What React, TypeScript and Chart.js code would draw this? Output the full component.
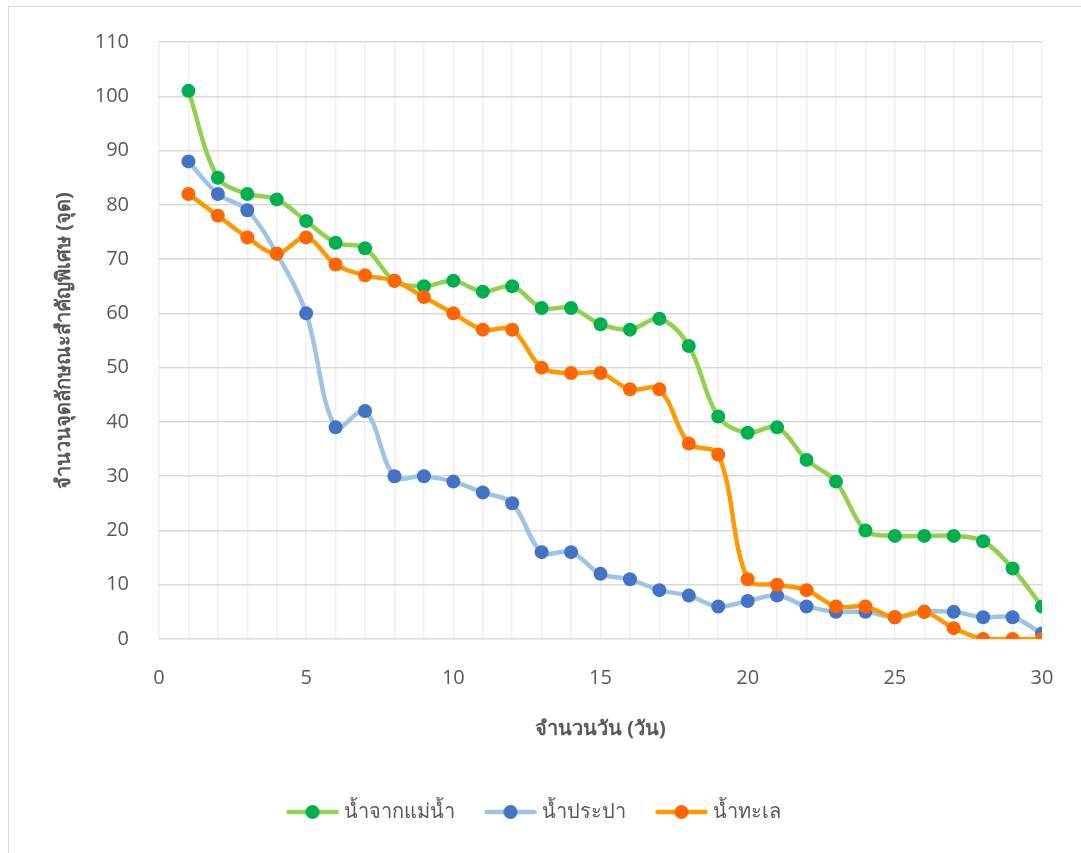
import React, { useEffect, useRef } from "react";
import { Chart, registerables } from "chart.js";

Chart.register(...registerables);

// Day numbers along the x axis
const days: number[] = Array.from({ length: 30 }, (_, i) => i + 1);

// Number of key feature points remaining per day
const riverWater: number[] = [
  101, 85, 82, 81, 77, 73, 72, 66, 65, 66, 64, 65, 61, 61, 58, 57, 59, 54, 41, 38,
  39, 33, 29, 20, 19, 19, 19, 18, 13, 6,
];
const tapWater: number[] = [
  88, 82, 79, 71, 60, 39, 42, 30, 30, 29, 27, 25, 16, 16, 12, 11, 9, 8, 6, 7, 8, 6,
  5, 5, 4, 5, 5, 4, 4, 1,
];
const seaWater: number[] = [
  82, 78, 74, 71, 74, 69, 67, 66, 63, 60, 57, 57, 50, 49, 49, 46, 46, 36, 34, 11,
  10, 9, 6, 6, 4, 5, 2, 0, 0, 0,
];

const seriesNames: string[] = ["น้ำจากแม่น้ำ", "น้ำประปา", "น้ำทะเล"];
const lineColors: string[] = ["#92D050", "#9DC3E6", "#FF9900"];
const pointColors: string[] = ["#00B050", "#4472C4", "#FF6600"];
const drawOrder: number[] = [2, 1, 0];

const xTitle = "จำนวนวัน (วัน)";
const yTitle = "จำนวนจุดลักษณะสำคัญพิเศษ (จุด)";

const textColor = "#595959";
const fontFamily = '"Open Sans", "Noto Sans", Tahoma, sans-serif';

// Legend marker: a short line with a dot in the middle
function makeMarker(line: string, dot: string): HTMLCanvasElement {
  const c = document.createElement("canvas");
  c.width = 54;
  c.height = 16;
  const ctx = c.getContext("2d")!;
  ctx.strokeStyle = line;
  ctx.lineWidth = 4.5;
  ctx.lineCap = "round";
  ctx.beginPath();
  ctx.moveTo(3, 8);
  ctx.lineTo(51, 8);
  ctx.stroke();
  ctx.fillStyle = dot;
  ctx.beginPath();
  ctx.arc(27, 8, 7, 0, Math.PI * 2);
  ctx.fill();
  return c;
}

export default function App() {
  const canvasRef = useRef<HTMLCanvasElement | null>(null);

  useEffect(() => {
    document.body.style.margin = "0";
    document.body.style.overflow = "hidden";
    const canvas = canvasRef.current;
    if (!canvas) return;

    const seriesValues = [riverWater, tapWater, seaWater];
    const markers = lineColors.map((c, i) => makeMarker(c, pointColors[i]));

    const chart = new Chart(canvas, {
      type: "line",
      data: {
        datasets: seriesValues.map((vals, i) => ({
          label: seriesNames[i],
          data: vals.map((v, j) => ({ x: days[j], y: v })),
          borderColor: lineColors[i],
          backgroundColor: pointColors[i],
          borderWidth: 4.5,
          pointRadius: 7,
          pointHoverRadius: 7,
          pointBackgroundColor: pointColors[i],
          pointBorderColor: pointColors[i],
          pointBorderWidth: 0,
          tension: 0.35,
          fill: false,
          order: drawOrder[i],
        })),
      },
      options: {
        animation: false,
        responsive: false,
        maintainAspectRatio: false,
        layout: { padding: { left: 30, top: 41, right: 39, bottom: 21 } },
        plugins: {
          tooltip: { enabled: false },
          legend: {
            position: "bottom",
            labels: {
              usePointStyle: true,
              pointStyleWidth: 42,
              padding: 35,
              color: textColor,
              font: { family: fontFamily, size: 20 },
              sort: (a: any, b: any) => a.datasetIndex - b.datasetIndex,
              generateLabels: (ch: any) => {
                const items = Chart.defaults.plugins.legend.labels.generateLabels(ch);
                return items.map((it: any, i: number) => ({
                  ...it,
                  pointStyle: markers[it.datasetIndex ?? i],
                }));
              },
            },
          },
        },
        scales: {
          x: {
            type: "linear",
            min: 0,
            max: 30,
            afterFit: (s: any) => {
              s.height = 128;
            },
            ticks: {
              stepSize: 1,
              autoSkip: false,
              maxRotation: 0,
              padding: 27,
              color: textColor,
              font: { family: fontFamily, size: 20 },
              callback: (v: any) => (Number(v) % 5 === 0 ? String(v) : ""),
            },
            grid: { color: "#EFEFEF", lineWidth: 1.5, drawTicks: false },
            border: { display: false },
            title: {
              display: true,
              text: xTitle,
              color: textColor,
              font: { family: fontFamily, size: 20, weight: "bold" },
              padding: { top: 0, bottom: 26 },
            },
          },
          y: {
            min: 0,
            max: 110,
            afterFit: (s: any) => {
              s.width = 129;
            },
            ticks: {
              stepSize: 10,
              padding: 30,
              color: textColor,
              font: { family: fontFamily, size: 20 },
            },
            grid: { color: "#D9D9D9", lineWidth: 1.5, drawTicks: false },
            border: { display: false },
            title: {
              display: true,
              text: yTitle,
              color: textColor,
              font: { family: fontFamily, size: 20, weight: "bold" },
              padding: { top: 22, bottom: 0 },
            },
          },
        },
      },
    });

    return () => chart.destroy();
  }, []);

  return (
    <div
      style={{
        position: "fixed",
        left: 0,
        top: 0,
        width: 1081,
        height: 853,
        overflow: "hidden",
        background: "#ffffff",
      }}
    >
      <div
        style={{
          position: "absolute",
          left: 8,
          top: 6,
          width: 1200,
          height: 1000,
          border: "1.5px solid #D9D9D9",
          boxSizing: "border-box",
        }}
      />
      <canvas
        ref={canvasRef}
        width={1081}
        height={853}
        style={{ position: "absolute", left: 0, top: 0, width: 1081, height: 853 }}
      />
    </div>
  );
}
